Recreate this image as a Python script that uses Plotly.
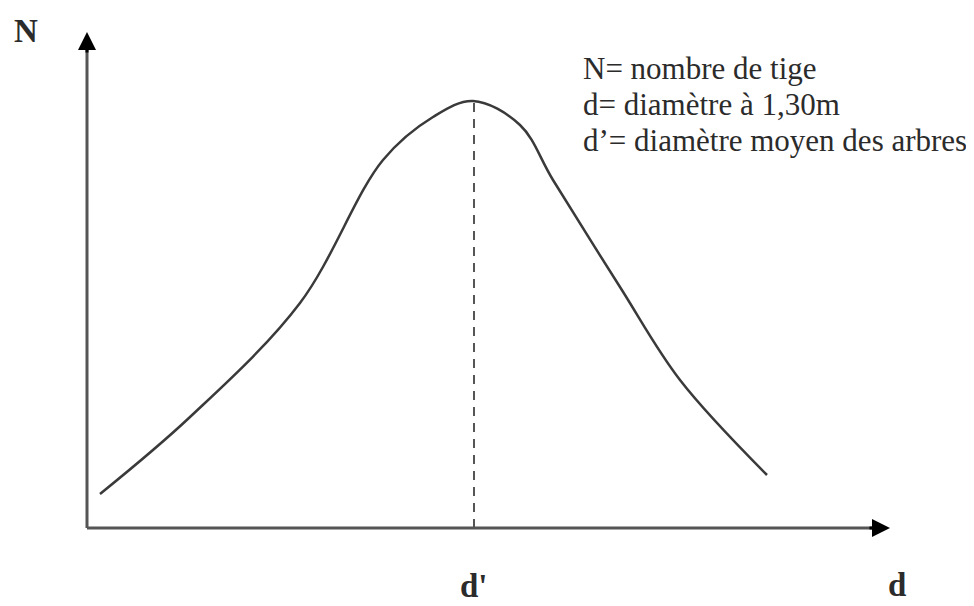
import plotly.graph_objects as go

d_vals = [13, 103, 213, 296, 346, 386, 433, 466, 533, 593, 680]
n_vals = [34, 111, 225, 368, 411, 427, 403, 348, 241, 148, 53]
d_mean = 387
n_peak = 427

legend_lines = ["N= nombre de tige", "d= diamètre à 1,30m", "d\u2019= diamètre moyen des arbres"]

x0, y0 = 87, 0        # axis origin
x_tip, y_tip = 890, 496
serif = "Liberation Serif, Times New Roman, serif"
ink = "#2b2b2b"

xs = [x0 + v for v in d_vals]

fig = go.Figure()

fig.add_trace(go.Scatter(x=xs, y=n_vals, mode="lines",
                         line=dict(color="#3a3a3a", width=2.5, shape="spline", smoothing=1.0),
                         hoverinfo="skip"))

# dashed line at the mean diameter
fig.add_trace(go.Scatter(x=[x0 + d_mean, x0 + d_mean], y=[y0, n_peak], mode="lines",
                         line=dict(color="#555555", width=2, dash="9px,7px"), hoverinfo="skip"))

# axes with arrow heads
fig.add_shape(type="line", x0=x0, y0=y0, x1=x0, y1=y_tip - 10, line=dict(color="#555555", width=3))
fig.add_shape(type="line", x0=x0, y0=y0, x1=x_tip - 10, y1=y0, line=dict(color="#555555", width=3))
fig.add_annotation(x=x0, y=y_tip, ax=0, ay=22, text="", showarrow=True, arrowhead=2,
                   arrowsize=1.2, arrowwidth=3, arrowcolor="black")
fig.add_annotation(x=x_tip, y=y0, ax=-22, ay=0, text="", showarrow=True, arrowhead=2,
                   arrowsize=1.2, arrowwidth=3, arrowcolor="black")

fig.add_annotation(x=26, y=497, text="<b>N</b>", showarrow=False, font=dict(family=serif, size=33, color=ink))
fig.add_annotation(x=x0 + d_mean, y=-58, text="<b>d'</b>", showarrow=False,
                   font=dict(family=serif, size=33, color=ink))
fig.add_annotation(x=897, y=-57, text="<b>d</b>", showarrow=False, font=dict(family=serif, size=33, color=ink))

for i, line in enumerate(legend_lines):
    fig.add_annotation(x=581, y=460 - i * 36, text=line, showarrow=False, xanchor="left",
                       font=dict(family=serif, size=31, color=ink))

# page body has an 8px margin, ranges are shifted so the origin lands where it does in the picture
fig.update_layout(width=974, height=606, margin=dict(l=0, r=0, t=0, b=0),
                  paper_bgcolor="white", plot_bgcolor="white", showlegend=False,
                  xaxis=dict(range=[8, 982], visible=False, fixedrange=True),
                  yaxis=dict(range=[-86, 520], visible=False, fixedrange=True))

fig.write_html("out.html")
